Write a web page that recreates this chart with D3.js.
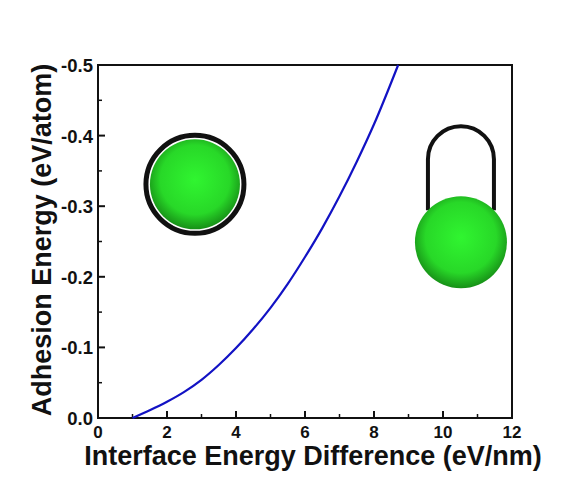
<!DOCTYPE html>
<html lang="en">

<head>
    <meta charset="UTF-8">
    <title>Adhesion Energy</title>
    <script src="https://d3js.org/d3.v7.min.js"></script>
    <style>
        body { margin: 0; background: #fff; }
        text { font-family: "Liberation Sans", Arial, sans-serif; font-weight: bold; fill: #111; }
    </style>
</head>

<body>
    <div id="container"></div>
    <script>
        // curve
        var diff = [1.0, 1.5, 2.0, 2.5, 3.0, 3.5, 4.0, 4.5, 5.0, 5.5, 6.0, 6.5, 7.0, 7.5, 8.0, 8.7];
        var energy = [0, -0.011, -0.023, -0.037, -0.054, -0.075, -0.099, -0.126, -0.156, -0.190, -0.228, -0.269, -0.314, -0.363, -0.416, -0.5];

        var xTicks = [0, 2, 4, 6, 8, 10, 12];
        var yTicks = [0, -0.1, -0.2, -0.3, -0.4, -0.5];

        // cartoon spheres (data coords of centre)
        var sphereX = [2.81, 10.52];
        var sphereY = [-0.331, -0.249];

        var width = 562, height = 500;
        var mLeft = 98, mRight = 512, mTop = 65, mBottom = 418;

        var x = d3.scaleLinear().domain([0, 12]).range([mLeft, mRight]);
        var y = d3.scaleLinear().domain([0, -0.5]).range([mBottom, mTop]);

        var svg = d3.select("#container")
            .append("svg")
            .attr("width", width)
            .attr("height", height);

        var defs = svg.append("defs");
        var grad = defs.append("radialGradient")
            .attr("id", "ball")
            .attr("cx", "50%").attr("cy", "45%").attr("r", "55%");
        grad.append("stop").attr("offset", "0%").attr("stop-color", "#30f530");
        grad.append("stop").attr("offset", "70%").attr("stop-color", "#28d828");
        grad.append("stop").attr("offset", "100%").attr("stop-color", "#179017");

        // frame
        svg.append("rect")
            .attr("x", mLeft).attr("y", mTop)
            .attr("width", mRight - mLeft).attr("height", mBottom - mTop)
            .attr("fill", "none")
            .attr("stroke", "#111")
            .attr("stroke-width", 2);

        // x axis
        var xAxis = svg.append("g")
            .attr("transform", "translate(0," + mBottom + ")");
        xAxis.selectAll(".minor")
            .data(d3.range(1, 12, 2))
            .enter().append("line")
            .attr("x1", (d) => x(d)).attr("x2", (d) => x(d))
            .attr("y1", 0).attr("y2", -4)
            .attr("stroke", "#111").attr("stroke-width", 1.5);
        xAxis.selectAll(".major")
            .data(xTicks)
            .enter().append("line")
            .attr("x1", (d) => x(d)).attr("x2", (d) => x(d))
            .attr("y1", 0).attr("y2", -7)
            .attr("stroke", "#111").attr("stroke-width", 2);
        xAxis.selectAll("text")
            .data(xTicks)
            .enter().append("text")
            .attr("x", (d) => x(d))
            .attr("y", 20)
            .attr("text-anchor", "middle")
            .attr("font-size", 17)
            .text((d) => d);

        // y axis
        var yAxis = svg.append("g")
            .attr("transform", "translate(" + mLeft + ",0)");
        yAxis.selectAll(".minor")
            .data(d3.range(-0.05, -0.5, -0.1))
            .enter().append("line")
            .attr("x1", 0).attr("x2", 4)
            .attr("y1", (d) => y(d)).attr("y2", (d) => y(d))
            .attr("stroke", "#111").attr("stroke-width", 1.5);
        yAxis.selectAll(".major")
            .data(yTicks)
            .enter().append("line")
            .attr("x1", 0).attr("x2", 7)
            .attr("y1", (d) => y(d)).attr("y2", (d) => y(d))
            .attr("stroke", "#111").attr("stroke-width", 2);
        yAxis.selectAll("text")
            .data(yTicks)
            .enter().append("text")
            .attr("x", -5)
            .attr("y", (d) => y(d) + 7)
            .attr("text-anchor", "end")
            .attr("font-size", 18.5)
            .text((d) => d3.format(".1f")(d).replace("−", "-"));

        // axis titles
        svg.append("text")
            .attr("x", 313)
            .attr("y", 465)
            .attr("text-anchor", "middle")
            .attr("font-size", 27)
            .text("Interface Energy Difference (eV/nm)");
        svg.append("text")
            .attr("transform", "translate(51,240) rotate(-90)")
            .attr("text-anchor", "middle")
            .attr("font-size", 27)
            .text("Adhesion Energy (eV/atom)");

        // curve
        var line = d3.line()
            .x((d, i) => x(diff[i]))
            .y((d) => y(d))
            .curve(d3.curveMonotoneX);
        svg.append("path")
            .datum(energy)
            .attr("d", line)
            .attr("fill", "none")
            .attr("stroke", "#1212c4")
            .attr("stroke-width", 2.2);

        // left sphere, wrapped
        var lx = x(sphereX[0]), ly = y(sphereY[0]);
        svg.append("circle")
            .attr("cx", lx).attr("cy", ly).attr("r", 49)
            .attr("fill", "white")
            .attr("stroke", "#111").attr("stroke-width", 5);
        svg.append("circle")
            .attr("cx", lx).attr("cy", ly).attr("r", 45)
            .attr("fill", "url(#ball)");

        // right sphere with loop
        var rx = x(sphereX[1]), ry = y(sphereY[1]);
        svg.append("path")
            .attr("d", "M" + (rx - 33) + "," + (ry - 32) +
                " L" + (rx - 33) + "," + (ry - 83) +
                " A33,33 0 0 1 " + (rx + 33) + "," + (ry - 83) +
                " L" + (rx + 33) + "," + (ry - 32))
            .attr("fill", "none")
            .attr("stroke", "#111")
            .attr("stroke-width", 4);
        svg.append("circle")
            .attr("cx", rx).attr("cy", ry).attr("r", 46)
            .attr("fill", "url(#ball)");
    </script>
</body>

</html>
